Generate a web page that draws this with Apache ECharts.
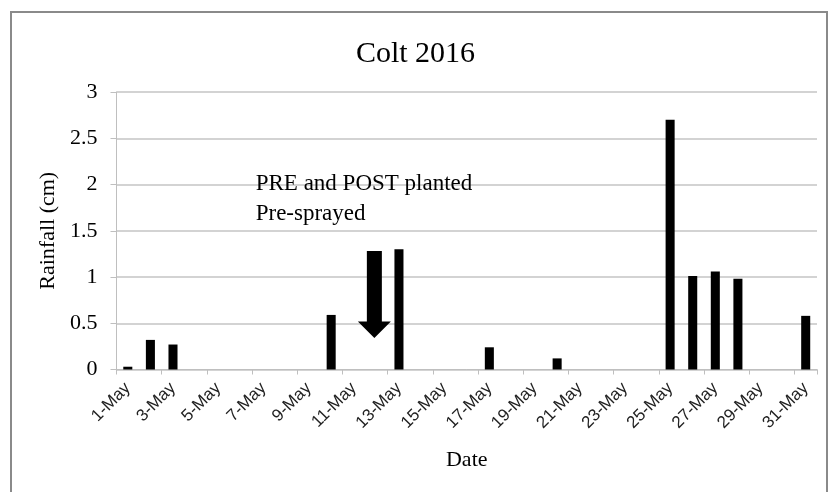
<!DOCTYPE html>
<html><head><meta charset="utf-8">
<script src="https://cdn.jsdelivr.net/npm/echarts@6/dist/echarts.min.js"></script>
<style>html,body{margin:0;padding:0;background:#fff}#c{width:831px;height:492px}</style>
</head><body><div id="c"></div>
<script>
const categories = ['1-May','2-May','3-May','4-May','5-May','6-May','7-May','8-May','9-May','10-May','11-May','12-May','13-May','14-May','15-May','16-May','17-May','18-May','19-May','20-May','21-May','22-May','23-May','24-May','25-May','26-May','27-May','28-May','29-May','30-May','31-May'];
const rainfall = [0.03,0.32,0.27,0,0,0,0,0,0,0.59,0,0,1.30,0,0,0,0.24,0,0,0.12,0,0,0,0,2.70,1.01,1.06,0.98,0,0,0.58];
const yTicks = [0,0.5,1,1.5,2,2.5,3];
const annotationLines = ['PRE and POST planted','Pre-sprayed'];
const arrowAt = {cat: 11, top: 1.28, headTop: 0.52, tip: 0.34};

const serif = '"Liberation Serif","DejaVu Serif",serif';
const chart = echarts.init(document.getElementById('c'));
chart.setOption({
  animation: false,
  title: {text: 'Colt 2016', left: 'center', top: 34, textStyle: {fontFamily: serif, fontSize: 30, fontWeight: 'normal', color: '#000'}},
  grid: {left: 116.5, right: 14, top: 92, bottom: 122.5, containLabel: false},
  xAxis: {
    type: 'category', data: categories, name: 'Date', nameLocation: 'middle', nameGap: 80,
    nameTextStyle: {fontFamily: serif, fontSize: 22, color: '#000'},
    axisLine: {lineStyle: {color: '#bfbfbf', width: 1}},
    axisTick: {show: true, interval: 1, length: 5, lineStyle: {color: '#bfbfbf'}},
    axisLabel: {interval: 1, rotate: 45, fontFamily: '"Liberation Sans",sans-serif', fontSize: 17, color: '#222', margin: 16}
  },
  yAxis: {
    type: 'value', min: 0, max: 3, interval: 0.5, name: 'Rainfall (cm)', nameLocation: 'middle', nameGap: 55,
    nameTextStyle: {fontFamily: serif, fontSize: 22, color: '#000'},
    axisLine: {show: true, lineStyle: {color: '#bfbfbf'}},
    axisTick: {show: true, length: 6, lineStyle: {color: '#bfbfbf'}},
    splitLine: {lineStyle: {color: '#c4c4c4', width: 1.5}},
    axisLabel: {fontFamily: serif, fontSize: 22, color: '#000', margin: 19,
      formatter: v => yTicks.includes(v) ? String(v) : ''}
  },
  series: [{type: 'bar', data: rainfall, barWidth: '40%', itemStyle: {color: '#000'}}]
});

function drawExtras(){
  const px = (c, v) => chart.convertToPixel({gridIndex: 0}, [c, v]);
  const pTop = px(arrowAt.cat, arrowAt.top), pHead = px(arrowAt.cat, arrowAt.headTop), pTip = px(arrowAt.cat, arrowAt.tip);
  const x = pTop[0] - 2, sw = 7.5, hw = 16.5;
  const c5 = px(5, 2)[0], c6 = px(6, 2)[0];
  const tx = c5 + (c6 - c5) * 0.66;
  const y0 = px(6, 2.01)[1], y1 = px(6, 1.685)[1];
  chart.setOption({graphic: [
    {type: 'rect', shape: {x: 11, y: 12, width: 816, height: 500}, style: {fill: 'none', stroke: '#8a8a8a', lineWidth: 2}, silent: true},
    {type: 'polygon', shape: {points: [[x - sw, pTop[1]], [x + sw, pTop[1]], [x + sw, pHead[1]], [x + hw, pHead[1]], [x, pTip[1]], [x - hw, pHead[1]], [x - sw, pHead[1]]]}, style: {fill: '#000'}},
    {type: 'text', x: tx, y: y0, style: {text: annotationLines[0], font: '23px ' + serif, fill: '#000', verticalAlign: 'middle'}},
    {type: 'text', x: tx, y: y1, style: {text: annotationLines[1], font: '23px ' + serif, fill: '#000', verticalAlign: 'middle'}}
  ]});
}
drawExtras();
</script></body></html>
